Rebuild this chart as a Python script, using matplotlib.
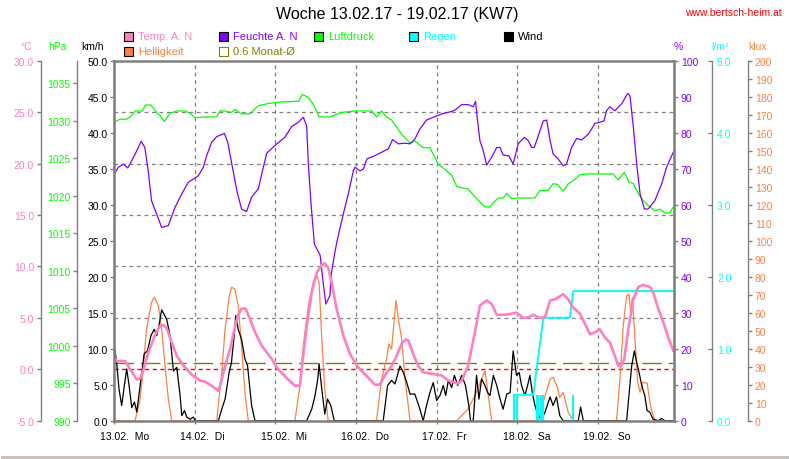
import matplotlib
matplotlib.use('Agg')
import matplotlib.pyplot as plt
from matplotlib.patches import Rectangle
from matplotlib.ticker import FormatStrFormatter, MultipleLocator

plt.rcParams['font.family'] = ['Liberation Sans', 'DejaVu Sans']
plt.rcParams['axes.unicode_minus'] = False

# ---- Daten (Stunden ab 13.02. 00:00) ----
HUM_H = [0, 1.2, 2.7, 4.0, 5.2, 6.7, 8.0, 9.1, 10.1, 11.1,
         12.6, 14.1, 16.1, 18.1, 20.1, 22.0, 25.0, 26.5, 27.5, 29.0,
         30.5, 32.8, 33.8, 35.0, 36.5, 37.9, 39.4, 40.9, 42.9, 43.9,
         45.4, 48.4, 50.8, 52.8, 54.8, 56.3, 57.3, 57.8, 58.6, 59.6,
         61.3, 62.2, 63.0, 64.2, 64.7, 65.7, 66.5, 68.2, 69.7, 71.2,
         71.7, 73.2, 74.2, 75.2, 77.6, 80.1, 81.6, 82.9, 84.6, 86.6,
         88.1, 89.5, 91.0, 93.0, 94.5, 97.5, 100.5, 101.5, 103.5, 105.4,
         106.9, 107.6, 108.2, 108.9, 109.9, 110.9, 112.4, 113.9, 114.9, 115.8,
         117.5, 118.8, 120.3, 122.1, 123.3, 124.3, 125.1, 126.3, 127.8, 128.8,
         129.8, 130.7, 132.2, 133.7, 134.7, 136.2, 137.7, 139.2, 141.2, 143.2,
         144.6, 145.9, 146.6, 147.6, 149.1, 151.1, 152.9, 153.6, 154.6, 155.6,
         156.6, 157.9, 159.0, 161.0, 163.0, 164.5, 166.5]
HUM_V = [68.5, 70.4, 71.3, 70.2, 72.2, 75.0, 77.6, 75.9, 69.4, 61.1,
         57.4, 53.7, 54.2, 59.3, 63.0, 66.2, 68.0, 70.4, 73.6, 77.3,
         78.9, 79.8, 77.3, 71.3, 63.9, 58.8, 58.1, 62.1, 64.4, 68.5,
         74.3, 76.9, 78.7, 81.7, 82.9, 84.3, 81.9, 71.3, 60.2, 49.0,
         46.0, 38.4, 32.4, 34.7, 41.2, 46.8, 50.5, 57.4, 63.0, 69.4,
         70.4, 69.4, 69.9, 72.7, 73.6, 74.8, 75.5, 78.1, 76.9, 77.1,
         76.9, 78.2, 81.0, 83.5, 84.1, 85.2, 85.9, 86.3, 87.8, 87.8,
         87.2, 88.7, 83.3, 77.8, 75.0, 71.0, 73.2, 75.9, 75.9, 73.8,
         73.6, 71.3, 76.9, 78.7, 77.8, 75.9, 75.9, 79.2, 83.3, 83.5,
         77.8, 74.1, 72.7, 70.8, 71.3, 75.9, 78.4, 78.0, 79.6, 82.6,
         82.9, 83.3, 86.1, 87.2, 86.1, 88.0, 90.9, 90.3, 81.5, 71.3,
         63.0, 58.8, 58.8, 61.1, 65.7, 70.4, 74.6]

PRES_H = [0, 1.7, 3.7, 5.2, 6.2, 8.2, 9.4, 10.9, 12.6, 13.6,
          14.9, 16.6, 18.6, 21.1, 22.8, 24.0, 27.0, 30.5, 31.5, 33.0,
          34.8, 36.0, 37.9, 40.4, 42.9, 45.9, 49.9, 55.0, 56.0, 57.8,
          59.3, 61.0, 64.2, 67.7, 71.7, 76.7, 78.1, 79.6, 81.1, 82.6,
          85.6, 88.1, 89.5, 92.0, 94.0, 96.5, 99.0, 100.5, 102.0, 105.4,
          107.9, 110.4, 111.9, 112.9, 114.4, 115.8, 116.9, 118.3, 120.3, 125.3,
          126.8, 129.2, 130.7, 132.0, 133.7, 135.2, 136.7, 138.7, 141.2, 148.6,
          150.1, 151.9, 153.3, 154.6, 156.0, 157.5, 159.0, 161.0, 162.5, 164.0,
          165.5, 166.5]
PRES_V = [1029.8, 1030.2, 1030.2, 1030.7, 1031.3, 1031.3, 1032.1, 1032.1, 1031.1, 1030.7,
          1029.9, 1031.0, 1031.3, 1031.3, 1030.9, 1030.4, 1030.5, 1030.5, 1031.3, 1031.3,
          1031.1, 1031.5, 1030.9, 1030.9, 1032.0, 1032.3, 1032.5, 1032.6, 1033.5, 1033.1,
          1032.2, 1030.5, 1030.5, 1031.1, 1031.3, 1031.3, 1030.5, 1031.3, 1030.5, 1030.1,
          1028.2, 1027.0, 1027.3, 1026.4, 1026.4, 1024.2, 1023.3, 1022.7, 1021.2, 1020.9,
          1019.6, 1018.5, 1018.5, 1019.1, 1019.7, 1019.7, 1020.3, 1019.6, 1019.7, 1019.7,
          1020.7, 1020.7, 1021.6, 1021.5, 1020.6, 1021.6, 1022.0, 1022.8, 1022.9, 1022.9,
          1022.1, 1023.1, 1021.8, 1021.6, 1020.3, 1019.4, 1018.7, 1018.0, 1018.2, 1017.7,
          1017.7, 1018.5]

TEMP_H = [0, 0.7, 3.2, 4.7, 6.7, 7.7, 8.6, 10.1, 12.1, 13.6,
          14.6, 15.6, 17.1, 18.6, 20.5, 23.0, 25.5, 27.0, 29.0, 31.0,
          31.5, 33.0, 34.5, 36.0, 36.9, 37.9, 39.1, 40.4, 41.9, 43.9,
          46.9, 48.8, 51.8, 53.8, 55.3, 55.8, 57.3, 58.8, 60.3, 61.8,
          62.7, 63.7, 64.7, 66.2, 68.2, 70.2, 72.2, 74.7, 77.6, 79.1,
          80.6, 82.6, 84.1, 85.6, 86.8, 87.6, 89.0, 90.5, 92.0, 95.5,
          97.5, 99.5, 102.4, 103.5, 105.4, 107.4, 108.9, 110.9, 112.4, 113.9,
          116.3, 118.3, 119.8, 121.8, 123.3, 124.8, 126.8, 128.3, 129.8, 131.3,
          133.7, 135.2, 136.7, 138.7, 140.2, 141.7, 143.2, 144.6, 146.1, 147.6,
          149.1, 150.1, 150.9, 151.9, 153.1, 154.6, 156.1, 157.5, 159.5, 160.5,
          162.0, 163.5, 165.0, 166.5]
TEMP_V = [1.2, 0.8, 0.8, 0.0, -1.0, -0.9, -0.1, 1.6, 3.3, 4.2,
          4.3, 4.0, 2.6, 1.3, 0.4, -0.5, -1.1, -1.2, -1.6, -2.1,
          -1.6, 0.3, 2.0, 4.2, 5.3, 5.9, 5.9, 4.9, 3.6, 2.3,
          1.0, 0.0, -1.0, -1.6, -1.6, 0.0, 4.2, 7.5, 9.4, 10.1,
          10.3, 9.9, 8.5, 5.9, 3.3, 1.5, 0.35, -0.5, -1.5, -1.5,
          -0.6, 0.35, 1.3, 2.5, 2.9, 2.8, 1.5, 0.35, -0.3, -0.5,
          -0.6, -1.1, -1.4, -1.1, 0.35, 3.6, 6.2, 6.7, 6.35, 5.3,
          5.3, 5.4, 5.5, 5.0, 5.05, 5.3, 5.0, 5.05, 6.7, 6.8,
          7.3, 6.8, 6.0, 5.4, 4.4, 3.4, 3.6, 3.9, 3.1, 2.6,
          1.3, 0.35, 0.3, 1.0, 3.9, 6.8, 8.0, 8.2, 8.0, 7.5,
          5.9, 4.6, 3.1, 1.8]
TEMP_MONTH_AVG = 0.6

LUX_H = [0, 6.2, 7.7, 8.6, 9.6, 11.1, 11.9, 13.1, 14.1, 15.1,
         16.1, 17.1, 30.5, 32.0, 33.0, 34.2, 34.9, 35.9, 36.9, 37.9,
         38.9, 39.9, 53.8, 55.3, 56.3, 57.8, 59.3, 60.3, 61.0, 61.8,
         62.7, 63.7, 78.1, 79.6, 81.1, 81.8, 82.6, 83.3, 83.9, 84.6,
         85.6, 86.6, 88.1, 102.0, 105.4, 107.4, 109.4, 110.4, 111.4, 112.4,
         126.3, 128.3, 129.8, 130.7, 131.8, 132.7, 133.7, 135.2, 136.7, 149.6,
         150.6, 151.6, 152.6, 153.3, 153.8, 154.3, 155.1, 155.9, 156.6, 157.5,
         158.7, 159.7, 161.0, 166.8]
LUX_V = [0, 0, 12, 28.7, 51, 65.8, 68.6, 63.9, 51, 30.6,
         12, 0, 0, 26.9, 51, 68.6, 74.1, 73.2, 63.9, 41.7,
         15.8, 0, 0, 19.4, 41.7, 63.9, 76.9, 80.6, 76.9, 45.4,
         17.6, 0, 0, 23, 34.3, 42.6, 39.8, 54.7, 66.7, 56.5,
         45.4, 23, 0, 0, 6.5, 13.9, 23, 27.8, 13.9, 0,
         0, 13.9, 23, 24.1, 19.4, 13, 15.8, 4.7, 0, 0,
         23, 52.8, 69.4, 70.4, 60.2, 68.6, 45.4, 21.3, 15.8, 21.3,
         20.9, 8.3, 0, 0]

WIND_H = [0, 0.7, 1.4, 2.2, 3.0, 3.7, 4.4, 5.2, 6.0, 6.7,
          7.7, 8.9, 9.9, 10.9, 11.9, 12.6, 13.3, 14.1, 15.6, 16.6,
          17.6, 18.6, 19.6, 20.1, 20.9, 21.6, 22.6, 23.5, 24.2, 31.0,
          32.0, 33.0, 34.2, 34.9, 35.7, 36.2, 36.9, 37.9, 38.9, 39.7,
          40.4, 40.9, 41.9, 57.3, 58.8, 59.8, 60.6, 61.0, 61.8, 62.7,
          63.5, 64.5, 65.5, 80.1, 81.4, 82.6, 83.6, 85.1, 86.1, 87.1,
          88.1, 89.5, 90.7, 92.0, 93.0, 94.0, 95.0, 96.0, 97.0, 98.0,
          98.7, 99.5, 100.5, 101.3, 102.3, 103.5, 104.6, 105.6, 106.1, 106.9,
          107.9, 108.6, 109.4, 110.4, 111.2, 111.9, 112.9, 113.9, 114.9, 115.8,
          116.9, 117.9, 118.8, 119.8, 120.6, 121.3, 122.3, 123.1, 123.8, 124.5,
          125.3, 126.3, 127.3, 128.3, 129.8, 130.7, 131.7, 132.7, 133.7, 138.2,
          138.9, 139.7, 152.6, 154.1, 154.9, 155.6, 156.3, 157.1, 158.0, 158.7,
          159.5, 160.5, 162.0, 163.0, 164.0, 166.8]
WIND_V = [10.4, 8.1, 4.4, 2.1, 4.9, 7.2, 4.9, 1.8, 2.6, 1.2,
          4.9, 9.3, 9.7, 11.8, 12.7, 11.8, 13.2, 15.4, 14.1, 11.8,
          6.9, 7.4, 3.5, 0.7, 1.4, 0.5, 0.2, 0.5, 0, 0,
          1.6, 3.0, 6.7, 8.1, 11.8, 14.6, 12.7, 11.3, 8.6, 7.6,
          4.4, 2.1, 0, 0, 1.6, 3.5, 5.8, 7.9, 4.4, 0.9,
          3.0, 2.1, 0, 0, 4.9, 5.6, 5.1, 7.6, 6.7, 5.3,
          3.7, 3.7, 2.1, 0, 2.1, 3.9, 5.3, 2.8, 3.5, 4.9,
          3.5, 5.6, 4.6, 6.3, 4.9, 6.3, 4.9, 2.1, 0, 0,
          6.3, 3.0, 5.8, 4.9, 3.9, 3.5, 6.3, 4.9, 3.0, 1.6,
          3.7, 3.9, 9.7, 6.3, 6.7, 4.9, 3.5, 4.9, 6.3, 3.9,
          2.1, 0.7, 0.2, 1.2, 3.3, 2.1, 3.3, 0.7, 0, 0,
          1.9, 0, 0, 7.6, 9.7, 8.1, 6.7, 4.9, 3.5, 1.4,
          1.2, 0.2, 0, 0.3, 0, 0]

# Regen: Tagessumme (Linie) und Einzelwerte (Striche)
RAIN_H = [119.1, 119.1, 124.8, 127.8, 135.7, 136.7, 166.8]
RAIN_SUM = [0, 0.36, 0.36, 1.43, 1.43, 1.8, 1.8]
RAIN_BAR_H = [119.1, 119.8, 125.8, 126.3, 127.1, 127.8, 136.5]
RAIN_BAR_V = [0.36, 0.36, 0.36, 0.36, 0.36, 0.36, 0.36]

DAY_LABELS = ['13.02.  Mo', '14.02.  Di', '15.02.  Mi', '16.02.  Do',
              '17.02.  Fr', '18.02.  Sa', '19.02.  So']

# ---- Farben ----
PINK = '#ff80c0'
PURPLE = '#8000ff'
GREEN = '#00ff00'
CYAN = '#00ffff'
ORANGE = '#ff8040'
OLIVE = '#808000'
GRAY = '#808080'

W, H = 790, 460
X0, X1, Y0, Y1 = 114.3, 674.3, 61.7, 421.7


def fx(px):
    return px / W


def fy(py):
    return 1 - py / H


def apos(px):
    """Pixelposition -> Achsenbruchteil"""
    return (px - X0) / (X1 - X0)


def side_axis(base, side, px, ylim, step, color, fmt, direction='out', pad=1.5):
    a = base.twinx()
    for s in a.spines.values():
        s.set_visible(False)
    sp = a.spines[side]
    sp.set_visible(True)
    sp.set_position(('axes', apos(px)))
    sp.set_color(GRAY)
    sp.set_linewidth(1)
    if side == 'left':
        a.yaxis.tick_left()
    else:
        a.yaxis.tick_right()
    a.set_ylim(*ylim)
    a.yaxis.set_major_locator(MultipleLocator(step))
    a.yaxis.set_major_formatter(FormatStrFormatter(fmt))
    a.tick_params(axis='y', direction=direction, length=3.2, width=1, color=GRAY,
                  labelcolor=color, labelsize=7.5, pad=pad)
    return a


fig = plt.figure(figsize=(W / 100, H / 100), dpi=100)
ax = fig.add_axes([fx(X0), fy(Y1), (X1 - X0) / W, (Y1 - Y0) / H])
ax.set_xlim(0, 166.8)

# Basis: °C Skala, Raster, Referenzlinien
ax.set_ylim(-5, 30)
for name in ['right', 'top', 'bottom']:
    ax.spines[name].set_visible(False)
ax.spines['left'].set_position(('axes', apos(40.7)))
ax.spines['left'].set_color(GRAY)
ax.spines['left'].set_linewidth(1)
ax.yaxis.set_major_locator(MultipleLocator(5))
ax.yaxis.set_major_formatter(FormatStrFormatter('%.1f'))
ax.tick_params(axis='y', direction='out', length=3.2, width=1, color=GRAY,
               labelcolor=PINK, labelsize=7.5, pad=1.5)
ax.set_xticks([24 * i for i in range(7)])
ax.tick_params(axis='x', direction='out', length=2.5, width=1, color=GRAY, labelbottom=False)
for v in [5, 10, 15, 20, 25]:
    ax.axhline(v, color=GRAY, lw=0.9, linestyle=(0, (3, 3)))
for d in range(1, 7):
    ax.axvline(24 * d, color=GRAY, lw=0.9, linestyle=(0, (3, 3)))
ax.axhline(TEMP_MONTH_AVG, color=OLIVE, lw=1.0, linestyle=(0, (14, 5)))
ax.axhline(0, color='#ff0000', lw=1.0, linestyle=(0, (3, 2.5)))

for i, lab in enumerate(DAY_LABELS):
    ax.annotate(lab, xy=(24 * i, 0), xycoords=('data', 'axes fraction'),
                xytext=(-10.5, -11), textcoords='offset points', ha='left', va='center',
                fontsize=7.5, annotation_clip=False)

# hPa
ax_p = side_axis(ax, 'left', 77.3, (990, 1038), 5, GREEN, '%d')
ax_p.plot(PRES_H, PRES_V, color=GREEN, lw=0.9)

# Feuchte %
ax_h = side_axis(ax, 'right', X1, (0, 100), 10, PURPLE, '%d')
ax_h.plot(HUM_H, HUM_V, color=PURPLE, lw=0.9)

# Helligkeit klux
ax_l = side_axis(ax, 'right', 748.3, (0, 200), 10, ORANGE, '%d')
ax_l.plot(LUX_H, LUX_V, color=ORANGE, lw=0.9)

# Wind km/h
ax_w = side_axis(ax, 'left', X0, (0, 50), 5, 'black', '%.1f')
ax_w.plot(WIND_H, WIND_V, color='black', lw=0.9)

# Regen l/m²
ax_r = side_axis(ax, 'right', 711.7, (0, 5), 1, CYAN, '%.1f', direction='in', pad=3.8)
ax_r.vlines(RAIN_BAR_H, 0, RAIN_BAR_V, color=CYAN, lw=1.5)
ax_r.plot(RAIN_H, RAIN_SUM, color=CYAN, lw=1.4)

# Temperatur oben drauf + Rahmen
ax_t = ax.twinx()
ax_t.set_ylim(-5, 30)
ax_t.tick_params(axis='y', right=False, labelright=False, left=False, labelleft=False)
for s in ax_t.spines.values():
    s.set_color(GRAY)
    s.set_linewidth(1.8)
    s.set_zorder(5)
ax_t.plot(TEMP_H, TEMP_V, color=PINK, lw=1.9)

# ---- Texte ----
fig.text(fx(397), fy(15), 'Woche 13.02.17 - 19.02.17 (KW7)', ha='center', va='center', fontsize=11.5)
fig.text(fx(782), fy(12.5), 'www.bertsch-heim.at', color='red', ha='right', va='center', fontsize=7.5)

units = [(26, '°C', PINK), (57.5, 'hPa', GREEN), (92, 'km/h', 'black'),
         (678.5, '%', PURPLE), (719.5, 'l/m²', CYAN), (757.5, 'klux', ORANGE)]
for px, txt, col in units:
    fig.text(fx(px), fy(46.5), txt, color=col, ha='center', va='center', fontsize=7.5)

legend = [(124, 37.5, PINK, 'Temp. A. N', True), (219, 37.5, PURPLE, 'Feuchte A. N', True),
          (314, 37.5, GREEN, 'Luftdruck', True), (409, 37.5, CYAN, 'Regen', True),
          (504, 37.5, 'black', 'Wind', True), (124, 52.5, ORANGE, 'Helligkeit', True),
          (219, 52.5, OLIVE, '0.6 Monat-Ø', False)]
for px, py, col, txt, filled in legend:
    fig.add_artist(Rectangle((fx(px), fy(py + 4.5)), 9 / W, 9 / H, transform=fig.transFigure,
                             facecolor=col if filled else 'none',
                             edgecolor='black' if filled else col, lw=0.8))
    fig.text(fx(px + 14), fy(py), txt, color=col, ha='left', va='center', fontsize=8)

# Fensterrand unten
fig.add_artist(Rectangle((fx(1), 0), (W - 2) / W, 3 / H, transform=fig.transFigure,
                         facecolor='#c8c4bc', edgecolor='none'))

fig.savefig('out.png', dpi=100)
